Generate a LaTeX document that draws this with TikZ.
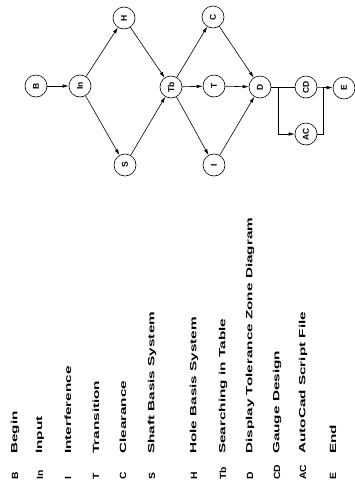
\documentclass[tikz,border=0pt]{standalone}
\usepackage{fontspec}
\setmainfont{Liberation Sans}
\usepackage{graphicx}
\usetikzlibrary{arrows.meta}

\newcommand{\wide}[1]{\scalebox{1.7}[1]{#1}}
\newcommand{\abbr}[1]{\scalebox{1.15}[1]{#1}}

\begin{document}
\begin{tikzpicture}[x=1pt, y=-1pt,
  state/.style={draw, circle, line width=0.6pt, minimum size=22pt, inner sep=0pt,
    rotate=90, font=\bfseries\fontsize{8.5}{9}\selectfont},
  flow/.style={-{Latex[length=6pt,width=3.5pt]}, line width=0.6pt},
  link/.style={line width=0.6pt},
  entry/.style={rotate=90, anchor=west, inner sep=0pt, font=\bfseries\fontsize{9}{10}\selectfont}]
\useasboundingbox (0, 0) rectangle (355, 485);

% states
\node [state] (B) at (36, 86) {B};
\node [state] (In) at (80, 86) {In};
\node [state] (H) at (124, 18) {H};
\node [state] (S) at (125, 165) {S};
\node [state] (Tb) at (171, 87) {Tb};
\node [state] (C) at (213, 17) {C};
\node [state] (T) at (214, 86) {T};
\node [state] (I) at (214, 165) {I};
\node [state] (D) at (260, 87) {D};
\node [state] (CD) at (306, 87) {CD};
\node [state] (E) at (344, 88) {E};
\node [state] (AC) at (306, 134) {AC};

\coordinate (dsplit) at (278, 87);
\coordinate (ejoin) at (323, 87.5);

\draw [flow] (B) -- (In);
\draw [flow] (In) -- (H);
\draw [flow] (In) -- (S);
\draw [flow] (H) -- (Tb);
\draw [flow] (S) -- (Tb);
\draw [flow] (Tb) -- (C);
\draw [flow] (Tb) -- (T);
\draw [flow] (Tb) -- (I);
\draw [flow] (C) -- (D);
\draw [flow] (T) -- (D);
\draw [flow] (I) -- (D);
\draw [link] (D) -- (CD);
\draw [flow] (CD) -- (E);
\draw [flow] (dsplit) |- (AC);
\draw [link] (AC) -| (ejoin);

% legend
\node [entry] at (15, 480) {\abbr{B}};
\node [entry] at (15, 454) {\wide{Begin}};
\node [entry] at (40, 480) {\abbr{In}};
\node [entry] at (40, 454) {\wide{Input}};
\node [entry] at (68, 480) {\abbr{I}};
\node [entry] at (68, 454) {\wide{Interference}};
\node [entry] at (96, 480) {\abbr{T}};
\node [entry] at (96, 454) {\wide{Transition}};
\node [entry] at (123, 480) {\abbr{C}};
\node [entry] at (123, 454) {\wide{Clearance}};
\node [entry] at (152, 480) {\abbr{S}};
\node [entry] at (152, 454) {\wide{Shaft Basis System}};
\node [entry] at (194, 480) {\abbr{H}};
\node [entry] at (194, 454) {\wide{Hole Basis System}};
\node [entry] at (223, 480) {\abbr{Tb}};
\node [entry] at (223, 454) {\wide{Searching in Table}};
\node [entry] at (250, 480) {\abbr{D}};
\node [entry] at (250, 454) {\wide{Display Tolerance Zone Diagram}};
\node [entry] at (277, 480) {\abbr{CD}};
\node [entry] at (277, 454) {\wide{Gauge Design}};
\node [entry] at (303, 480) {\abbr{AC}};
\node [entry] at (303, 454) {\wide{AutoCad Script File}};
\node [entry] at (333, 480) {\abbr{E}};
\node [entry] at (333, 454) {\wide{End}};
\end{tikzpicture}
\end{document}
